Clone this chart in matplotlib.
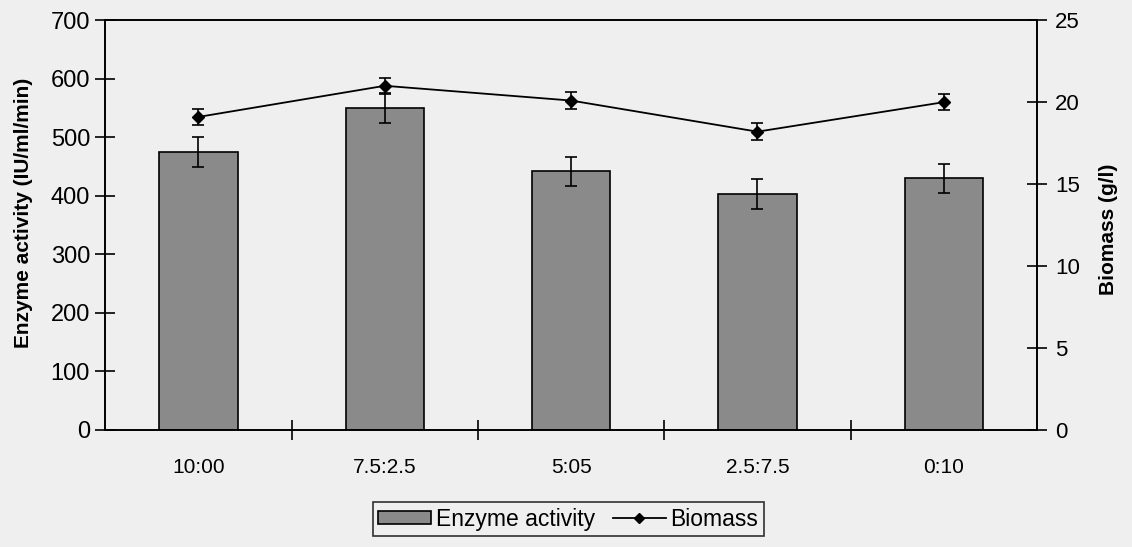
import matplotlib.pyplot as plt
import numpy as np

plt.rcParams['font.family'] = ['Liberation Sans', 'DejaVu Sans']

ratios = ["10:00", "7.5:2.5", "5:05", "2.5:7.5", "0:10"]
enzyme = [475, 550, 442, 403, 430]
enzyme_err = [25, 25, 25, 25, 25]
biomass = [19.1, 21.0, 20.1, 18.2, 20.0]
biomass_err = [0.5, 0.5, 0.5, 0.5, 0.5]

bg = '#efefef'
fig = plt.figure(figsize=(11.32, 5.47), dpi=100, facecolor=bg)
ax = fig.add_axes([0.093, 0.214, 0.823, 0.749])
ax.set_facecolor(bg)

x = np.arange(len(ratios))
ax.bar(x, enzyme, width=0.42, color='#8a8a8a', edgecolor='black', linewidth=1.2,
       label='Enzyme activity', zorder=2)
ax.errorbar(x, enzyme, yerr=enzyme_err, fmt='none', ecolor='black', elinewidth=1.2,
            capsize=4, capthick=1.2, zorder=3)

ax.set_xlim(-0.5, 4.5)
ax.set_ylim(0, 700)
ax.set_yticks(range(0, 701, 100))
ax.set_xticks(x)
ax.set_xticklabels(ratios, fontsize=15)
ax.set_xticks(np.arange(0.5, 4.5, 1), minor=True)
ax.tick_params(axis='x', which='major', length=0, pad=20)
ax.tick_params(axis='x', which='minor', direction='inout', length=14, width=1.2)
ax.tick_params(axis='y', direction='inout', length=14, width=1.2, labelsize=17, pad=4)
ax.set_ylabel('Enzyme activity (IU/ml/min)', fontsize=15, fontweight='bold')
ax.yaxis.set_label_coords(-0.078, 0.53)
for s in ax.spines.values():
    s.set_linewidth(1.2)

ax2 = ax.twinx()
ax2.errorbar(x, biomass, yerr=biomass_err, color='black', marker='D', markersize=6,
             linewidth=1.3, elinewidth=1.2, capsize=4, capthick=1.2, label='Biomass', zorder=4)
ax2.set_ylim(0, 25)
ax2.set_yticks(range(0, 26, 5))
ax2.tick_params(axis='y', direction='inout', length=14, width=1.2, labelsize=16, pad=6)
ax2.set_ylabel('Biomass (g/l)', fontsize=15, fontweight='bold', rotation=90)
ax2.yaxis.set_label_coords(1.067, 0.49)
for s in ax2.spines.values():
    s.set_linewidth(1.2)

h1, l1 = ax.get_legend_handles_labels()
h2 = [plt.Line2D([], [], color='black', marker='D', markersize=5, linewidth=1.3)]
leg = fig.legend(h1 + h2, l1 + ['Biomass'], loc='center', bbox_to_anchor=(0.502, 0.051),
                 ncol=2, frameon=True, fontsize=16.5, fancybox=False, edgecolor='black',
                 handlelength=2.3, handleheight=0.5, handletextpad=0.2, columnspacing=0.8,
                 borderpad=0.25, borderaxespad=0)
leg.get_frame().set_linewidth(1.2)
leg.get_frame().set_facecolor(bg)

fig.savefig('out.png', dpi=100, facecolor=bg)
